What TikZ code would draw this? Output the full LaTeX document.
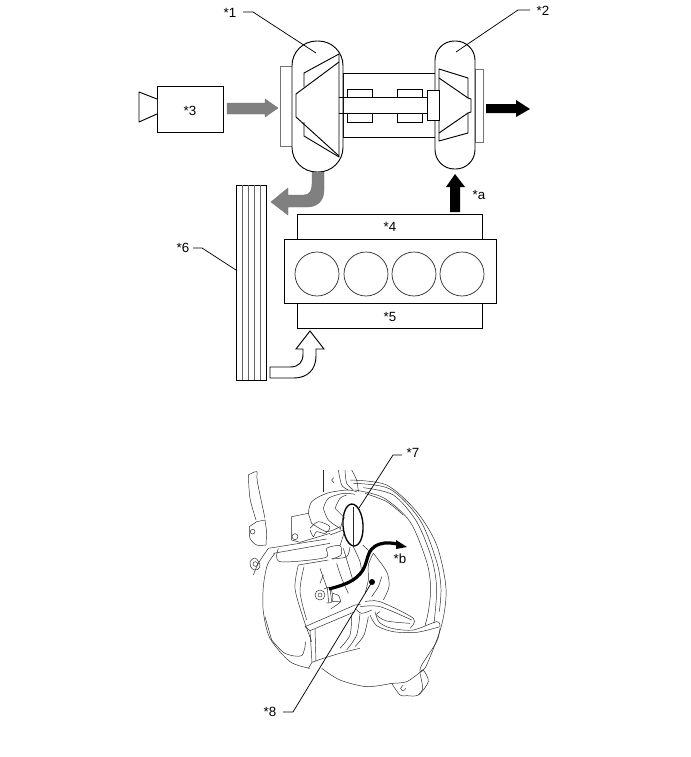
\documentclass[tikz,border=0pt]{standalone}
\usepackage{fontspec}
\setmainfont{Liberation Sans}
\tikzset{
  part/.style={draw=black,line width=0.7pt,fill=white},
  rim/.style={draw=black!55,line width=0.7pt,fill=white},
  fin/.style={draw=black!60,line width=0.4pt},
  blade/.style={draw=black,line width=0.7pt},
  lead/.style={draw=black,line width=0.55pt},
  tag/.style={font=\fontsize{10}{12}\selectfont,inner sep=0pt},
  hot/.style={fill=black!50,draw=black!55,line width=0.3pt},
  ink/.style={draw=black!85,line width=0.35pt,line join=round},
  wire/.style={draw=black,line width=2.4pt}
}
\begin{document}
\begin{tikzpicture}[x=0.75pt,y=-0.75pt]
\useasboundingbox (0,0) rectangle (691,757);
\fill[white] (0,0) rectangle (691,757);

% compressor bearing housing
\draw[part] (343,73) rectangle (435,137);
\draw[rim] (280,66) rectangle (292,146);
\draw[rim] (475,69) rectangle (483,142);

% compressor casing and wheel
\draw[part,rounded corners=18.5pt] (292,41) rectangle (343,172);
\draw[blade,line join=round] (304,87) -- (304,73) -- (339,54) -- (339,157) -- (304,136) -- (304,122);
\draw[blade,line join=round] (339,62) -- (296,94) -- (296,117) -- (339,156);

% turbine casing and wheel
\draw[part,rounded corners=14.5pt] (435,41) rectangle (475,169);
\draw[blade,line join=round] (439,69) -- (468,78) -- (468,98) -- (471,99) -- (471,112) -- (468,113) -- (468,133) -- (439,141) -- cycle;
\draw[blade,line join=round] (439,78) -- (468,98);
\draw[blade,line join=round] (439,133) -- (468,113);

% shaft, bearings and collar
\draw[part] (347,89) rectangle (372,97);
\draw[part] (347,113) rectangle (372,122);
\draw[part] (397,89) rectangle (422,97);
\draw[part] (397,113) rectangle (422,122);
\draw[part] (427,90) rectangle (439,120);
\draw[blade] (339,97) -- (427,97);
\draw[blade] (339,113) -- (427,113);

% air cleaner
\draw[part] (157,86) rectangle (223,132);
\draw[part,line join=round] (157,99) -- (139,92) -- (139,122) -- (157,114);
\node[tag] (n3) at (190,111) {*3};

% intake air arrow
\path[hot] (227,103) -- (265,103) -- (265,99) -- (278,108) -- (265,117) -- (265,114) -- (227,114) -- cycle;
% compressed air arrow towards the intercooler
\path[hot] (324,172) -- (324,190) .. controls (324,201) and (317,207) .. (307,207) -- (288,207) -- (288,215) -- (271,202) -- (288,188) -- (288,195) -- (304,195) .. controls (310,195) and (312,190) .. (312,184) -- (312,172) -- cycle;
% exhaust arrows
\fill[black] (486,104) -- (516,104) -- (516,100) -- (530,109) -- (516,117) -- (516,113) -- (486,113) -- cycle;
\fill[black] (450,212) -- (450,187) -- (446,187) -- (455,174) -- (465,187) -- (460,187) -- (460,212) -- cycle;
\node[tag] (na) at (479,195) {*a};

% intercooler
\draw[part] (236,185) rectangle (266,380);
\foreach \fx in {242,248,254,260} \draw[fin] (\fx,185) -- (\fx,380);

% engine
\draw[part] (297,214) rectangle (482,239);
\draw[part] (297,303) rectangle (482,328);
\draw[part] (284,239) rectangle (496,303);
\foreach \cx in {317,366,414,462} \draw[draw=black!80,line width=0.55pt] (\cx,274) circle [radius=22];
\node[tag] (n4) at (390,227) {*4};
\node[tag] (n5) at (390,317) {*5};

% cooled air arrow into the intake manifold
\draw[part] (270,367) -- (290,367) .. controls (299,367) and (303,362) .. (303,354) -- (303,349) -- (296,349) -- (310,331) -- (324,349) -- (316,349) -- (316,356) .. controls (316,370) and (307,378) .. (294,378) -- (270,378) -- cycle;

% turbocharger and intercooler call-outs
\node[tag] (n1) at (230,13) {*1};
\node[tag] (n2) at (543,11) {*2};
\node[tag] (n6) at (183,248) {*6};
\coordinate (p1) at (316,53);
\coordinate (p2) at (456,52);
\coordinate (p6) at (236,270);
\draw[lead] (243,12) -- (253,12) -- (p1);
\draw[lead] (530,10) -- (518,10) -- (p2);
\draw[lead] (193,248) -- (202,248) -- (p6);

% brake assembly, coordinates at 1/3 px from its own origin
\begin{scope}[ink,shift={(240,465)},scale=1/3]
% backing plate rings
\draw plot[smooth] coordinates {(330,45) (440,60) (530,140) (590,240) (618,370) (605,480) (560,600) (540,622)};
\draw plot[smooth] coordinates {(340,55) (450,72) (540,165) (590,290) (603,370) (598,440)};
\draw plot[smooth] coordinates {(370,68) (460,90) (530,170) (575,280) (590,370) (582,475)};
\draw plot[smooth] coordinates {(345,75) (430,98) (510,170) (560,290) (572,370) (565,440) (555,482)};
\draw plot[smooth] coordinates {(375,85) (440,110) (490,150)};
% lower edge and lug
\draw plot[smooth] coordinates {(245,610) (300,645) (380,665) (455,655)};
\draw plot[smooth] coordinates {(455,655) (480,690) (500,692) (535,690) (565,650) (550,615) (540,622)};
\draw plot[smooth] coordinates {(540,625) (548,670) (535,690)};
\draw plot[smooth] coordinates {(490,660) (482,670) (490,678) (497,670)};
\draw plot[smooth] coordinates {(455,655) (500,650) (540,622)};
% strut and bracket
\draw plot[smooth] coordinates {(25,30) (50,20) (52,50) (75,160)};
\draw plot[smooth] coordinates {(25,30) (30,100) (48,165)};
\draw (28,185) -- (50,170) -- (75,165) -- (80,200) -- (78,240);
\draw plot[smooth] coordinates {(28,185) (30,220) (50,240) (78,240)};
\draw (38,200) circle [radius=7];
% knuckle
\draw (155,155) -- (205,145) -- (215,175);
\draw plot[smooth] coordinates {(215,175) (260,200) (300,185)};
\draw (155,155) -- (155,225) -- (180,232);
\draw (165,215) circle [radius=9];
\draw plot[smooth] coordinates {(205,145) (215,110) (260,85) (320,75) (350,80)};
\draw plot[smooth] coordinates {(250,130) (265,100) (310,85) (345,88)};
\draw plot[smooth] coordinates {(285,130) (300,100) (320,90)};
\draw plot[smooth] coordinates {(250,130) (265,165) (300,190)};
\draw (285,130) -- (315,160);
\draw plot[smooth] coordinates {(210,190) (235,170) (270,185) (255,205) (230,200) (220,215) (210,195)};
\draw (250,15) -- (250,80);
\draw plot[smooth] coordinates {(282,38) (275,45) (282,53)};
\draw plot[smooth] coordinates {(295,15) (305,60) (325,75)};
\draw plot[smooth] coordinates {(315,15) (320,55) (340,75)};
\draw plot[smooth] coordinates {(335,15) (350,45) (355,80)};
\draw (180,232) -- (270,205);
\draw (270,210) -- (310,195);
% arm
\draw (85,250) -- (260,222);
\draw (100,265) -- (270,235);
\draw plot[smooth] coordinates {(115,250) (120,290) (255,278) (260,250) (300,242) (303,270) (275,282)};
\draw (300,242) -- (312,205);
\draw plot[smooth] coordinates {(275,282) (320,275) (330,245)};
\draw plot[smooth] coordinates {(40,330) (55,295) (85,250)};
\draw plot[smooth] coordinates {(30,290) (40,280) (50,282) (60,300) (55,312) (42,315) (32,305) (30,290)};
\draw (46,297) circle [radius=7];
% plate, lower left
\draw plot[smooth] coordinates {(105,265) (82,300) (70,365) (70,440) (90,520) (150,590) (210,610)};
\draw plot[smooth] coordinates {(75,455) (85,490) (95,525)};
\draw plot[smooth] coordinates {(175,300) (265,285)};
\draw plot[smooth] coordinates {(175,300) (165,370) (190,460) (215,530)};
\draw plot[smooth] coordinates {(192,305) (180,380) (200,465)};
\draw plot[smooth] coordinates {(95,525) (135,565) (185,572) (197,530)};
% caliper block
\draw (195,485) -- (345,420) -- (362,418);
\draw (195,485) -- (210,497) -- (345,440);
\draw (210,497) -- (216,592) -- (205,610);
\draw (225,492) -- (228,590);
\draw plot[smooth] coordinates {(216,592) (250,580) (310,562) (360,550)};
% bolt and thread
\draw (240,390) circle [radius=15];
\draw (240,390) circle [radius=6];
\draw plot[smooth] coordinates {(252,372) (272,368) (278,408) (258,414)};
\draw (262,370) -- (266,412);
\draw (270,370) -- (275,410);
\draw plot[smooth] coordinates {(278,385) (296,392) (302,410)};
\draw plot[smooth] coordinates {(278,410) (302,410) (272,432)};
\draw (240,310) -- (262,372);
\draw (250,330) -- (240,355);
\draw plot[smooth] coordinates {(290,295) (305,340) (325,385)};
\draw plot[smooth] coordinates {(310,250) (325,300) (340,350)};
\draw plot[smooth] coordinates {(340,245) (360,290) (365,325)};
\draw plot[smooth] coordinates {(368,240) (392,262)};
% sleeve and bracket
\draw plot[smooth] coordinates {(400,265) (440,320) (447,365) (430,405)};
\draw plot[smooth] coordinates {(400,265) (385,300) (385,345) (375,385)};
\draw plot[smooth] coordinates {(425,335) (415,365) (395,395)};
\draw plot[smooth] coordinates {(375,410) (420,410) (520,460) (510,490)};
\draw plot[smooth] coordinates {(360,425) (420,425) (515,465)};
\draw plot[smooth] coordinates {(405,440) (418,472) (455,490) (520,495) (590,470) (600,485)};
\draw plot[smooth] coordinates {(390,450) (410,482) (460,500) (530,502) (600,485)};
\draw plot[smooth] coordinates {(420,440) (410,450) (440,468) (510,475)};
\draw plot[smooth] coordinates {(600,490) (590,530) (545,600) (540,620)};
\draw plot[smooth] coordinates {(385,455) (372,510) (345,545)};
\draw plot[smooth] coordinates {(360,445) (350,510) (320,555)};
\draw plot[smooth] coordinates {(335,450) (330,510) (300,550)};
\draw plot[smooth] coordinates {(345,430) (365,445) (395,435)};
\end{scope}

% inspection circle, wire and sensor call-outs
\draw[draw=black,line width=1pt,rotate around={4:(353,525)}] (353,525) ellipse [x radius=10,y radius=21];
\draw[ink] (353,507) -- (353,547);
\draw[ink] (344,515) -- (340,530);
\coordinate (p7) at (359,508);
\node[tag] (n7) at (413,453) {*7};
\draw[lead] (402,455) -- (393,455) -- (p7);

\coordinate (wireA) at (329,589);
\coordinate (wireB) at (397,544);
\draw[wire] (wireA) .. controls (340,586) and (352,583) .. (360,574) .. controls (370,563) and (364,549) .. (380,544) .. controls (386,542) and (392,543) .. (wireB);
\fill[black] (396,540) -- (407,547) -- (396,549) -- cycle;
\node[tag] (nb) at (400,559) {*b};

\fill[black] (372,582) circle [radius=3];
\coordinate (p8) at (372,582);
\node[tag] (n8) at (270,712) {*8};
\draw[lead] (283,712) -- (293,712) -- (p8);
\end{tikzpicture}
\end{document}
